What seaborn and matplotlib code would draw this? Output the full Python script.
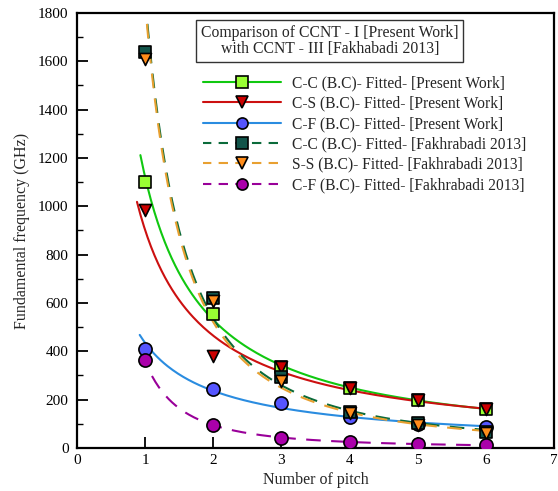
import numpy as np
import pandas as pd
import matplotlib
matplotlib.use("Agg")
import matplotlib.pyplot as plt
from matplotlib.lines import Line2D
import seaborn as sns

sns.set_theme(style="white")
plt.rcParams['font.family'] = ['Liberation Serif', 'DejaVu Serif']
plt.rcParams['mathtext.fontset'] = 'stix'

pitch = [1, 2, 3, 4, 5, 6]
cc_present = [1100, 554, 335, 248, 198, 161]
cs_present = [985, 380, 335, 248, 198, 161]
cf_present = [410, 244, 186, 128, 100, 87]
cc_fakh = [1640, 620, 293, 148, 103, 68]
ss_fakh = [1610, 610, 278, 143, 97, 64]
cf_fakh = [365, 95, 41, 25, 16, 12]

labels = ["C-C (B.C)- Fitted- [Present Work]",
          "C-S (B.C)- Fitted- [Present Work]",
          "C-F (B.C)- Fitted- [Present Work]",
          "C-C (B.C)- Fitted- [Fakhrabadi 2013]",
          "S-S (B.C)- Fitted- [Fakhrabadi 2013]",
          "C-F (B.C)- Fitted- [Fakhrabadi 2013]"]
series = [cc_present, cs_present, cf_present, cc_fakh, ss_fakh, cf_fakh]
line_colors = ["#10c810", "#cc1010", "#2a8ce0", "#0b6b3a", "#e8a030", "#990099"]
face_colors = ["#99ff33", "#cc0000", "#5555ff", "#12544a", "#ff8c1a", "#aa00aa"]
markers = ["s", "v", "o", "s", "v", "o"]
dashed = [False, False, False, True, True, True]
start_x = [0.93, 0.88, 0.92, 0.99, 0.99, 1.1]

fig = plt.figure(figsize=(5.58, 4.91), dpi=100)
ax = fig.add_axes([0.138, 0.0876, 0.855, 0.886])

for i, (ys, lab) in enumerate(zip(series, labels)):
    b, lna = np.polyfit(np.log(pitch), np.log(ys), 1)
    xs = np.linspace(start_x[i], 6, 200)
    fit = pd.DataFrame({"x": xs, "y": np.exp(lna) * xs ** b})
    sns.lineplot(data=fit, x="x", y="y", ax=ax, color=line_colors[i], lw=1.5,
                 dashes=False, linestyle=(0, (7, 5)) if dashed[i] else "-",
                 zorder=2)

for i, ys in enumerate(series):
    df = pd.DataFrame({"x": pitch, "y": ys})
    sns.scatterplot(data=df, x="x", y="y", ax=ax, marker=markers[i],
                    s=75 if markers[i] != "o" else 90, color=face_colors[i],
                    edgecolor="black", linewidth=1.2, zorder=3)

ax.set_xlim(0, 7)
ax.set_ylim(0, 1800)
ax.set_xticks(range(0, 8))
ax.set_yticks(range(0, 1801, 200))
ax.set_yticks(range(100, 1800, 200), minor=True)
ax.tick_params(axis="both", which="both", direction="in", labelsize=11,
               colors="black", top=False, right=False, bottom=True, left=True)
ax.tick_params(axis="x", which="major", length=8, width=1.3, pad=4)
ax.tick_params(axis="y", which="major", length=8, width=1.3, pad=6)
ax.tick_params(axis="y", which="minor", length=4, width=1.0)
for s in ax.spines.values():
    s.set_color("black")
    s.set_linewidth(1.6)
ax.set_xlabel("Number of pitch", fontsize=11.5, labelpad=4)
ax.set_ylabel("Fundamental frequency (GHz)", fontsize=11.5, labelpad=6)

handles = []
for i in range(6):
    handles.append(Line2D([0], [0], color=line_colors[i], lw=1.5,
                          linestyle=(0.5, (4.5, 3.5)) if dashed[i] else "-",
                          marker=markers[i], markersize=8,
                          markerfacecolor=face_colors[i],
                          markeredgecolor="black", markeredgewidth=1.2))
leg = ax.legend(handles, labels, loc="upper left",
                bbox_to_anchor=(0.252, 0.871), frameon=False, fontsize=11.2,
                handlelength=5.0, handletextpad=0.7, labelspacing=0.28,
                borderaxespad=0)

ax.text(0.530, 0.972,
        "Comparison of CCNT - I [Present Work]\nwith CCNT - III [Fakhabadi 2013]",
        transform=ax.transAxes, ha="center", va="top", fontsize=11.3,
        linespacing=1.0,
        bbox=dict(boxstyle="square,pad=0.3", facecolor="white",
                  edgecolor="#333333", linewidth=1.0))

fig.savefig("out.png", dpi=100)
